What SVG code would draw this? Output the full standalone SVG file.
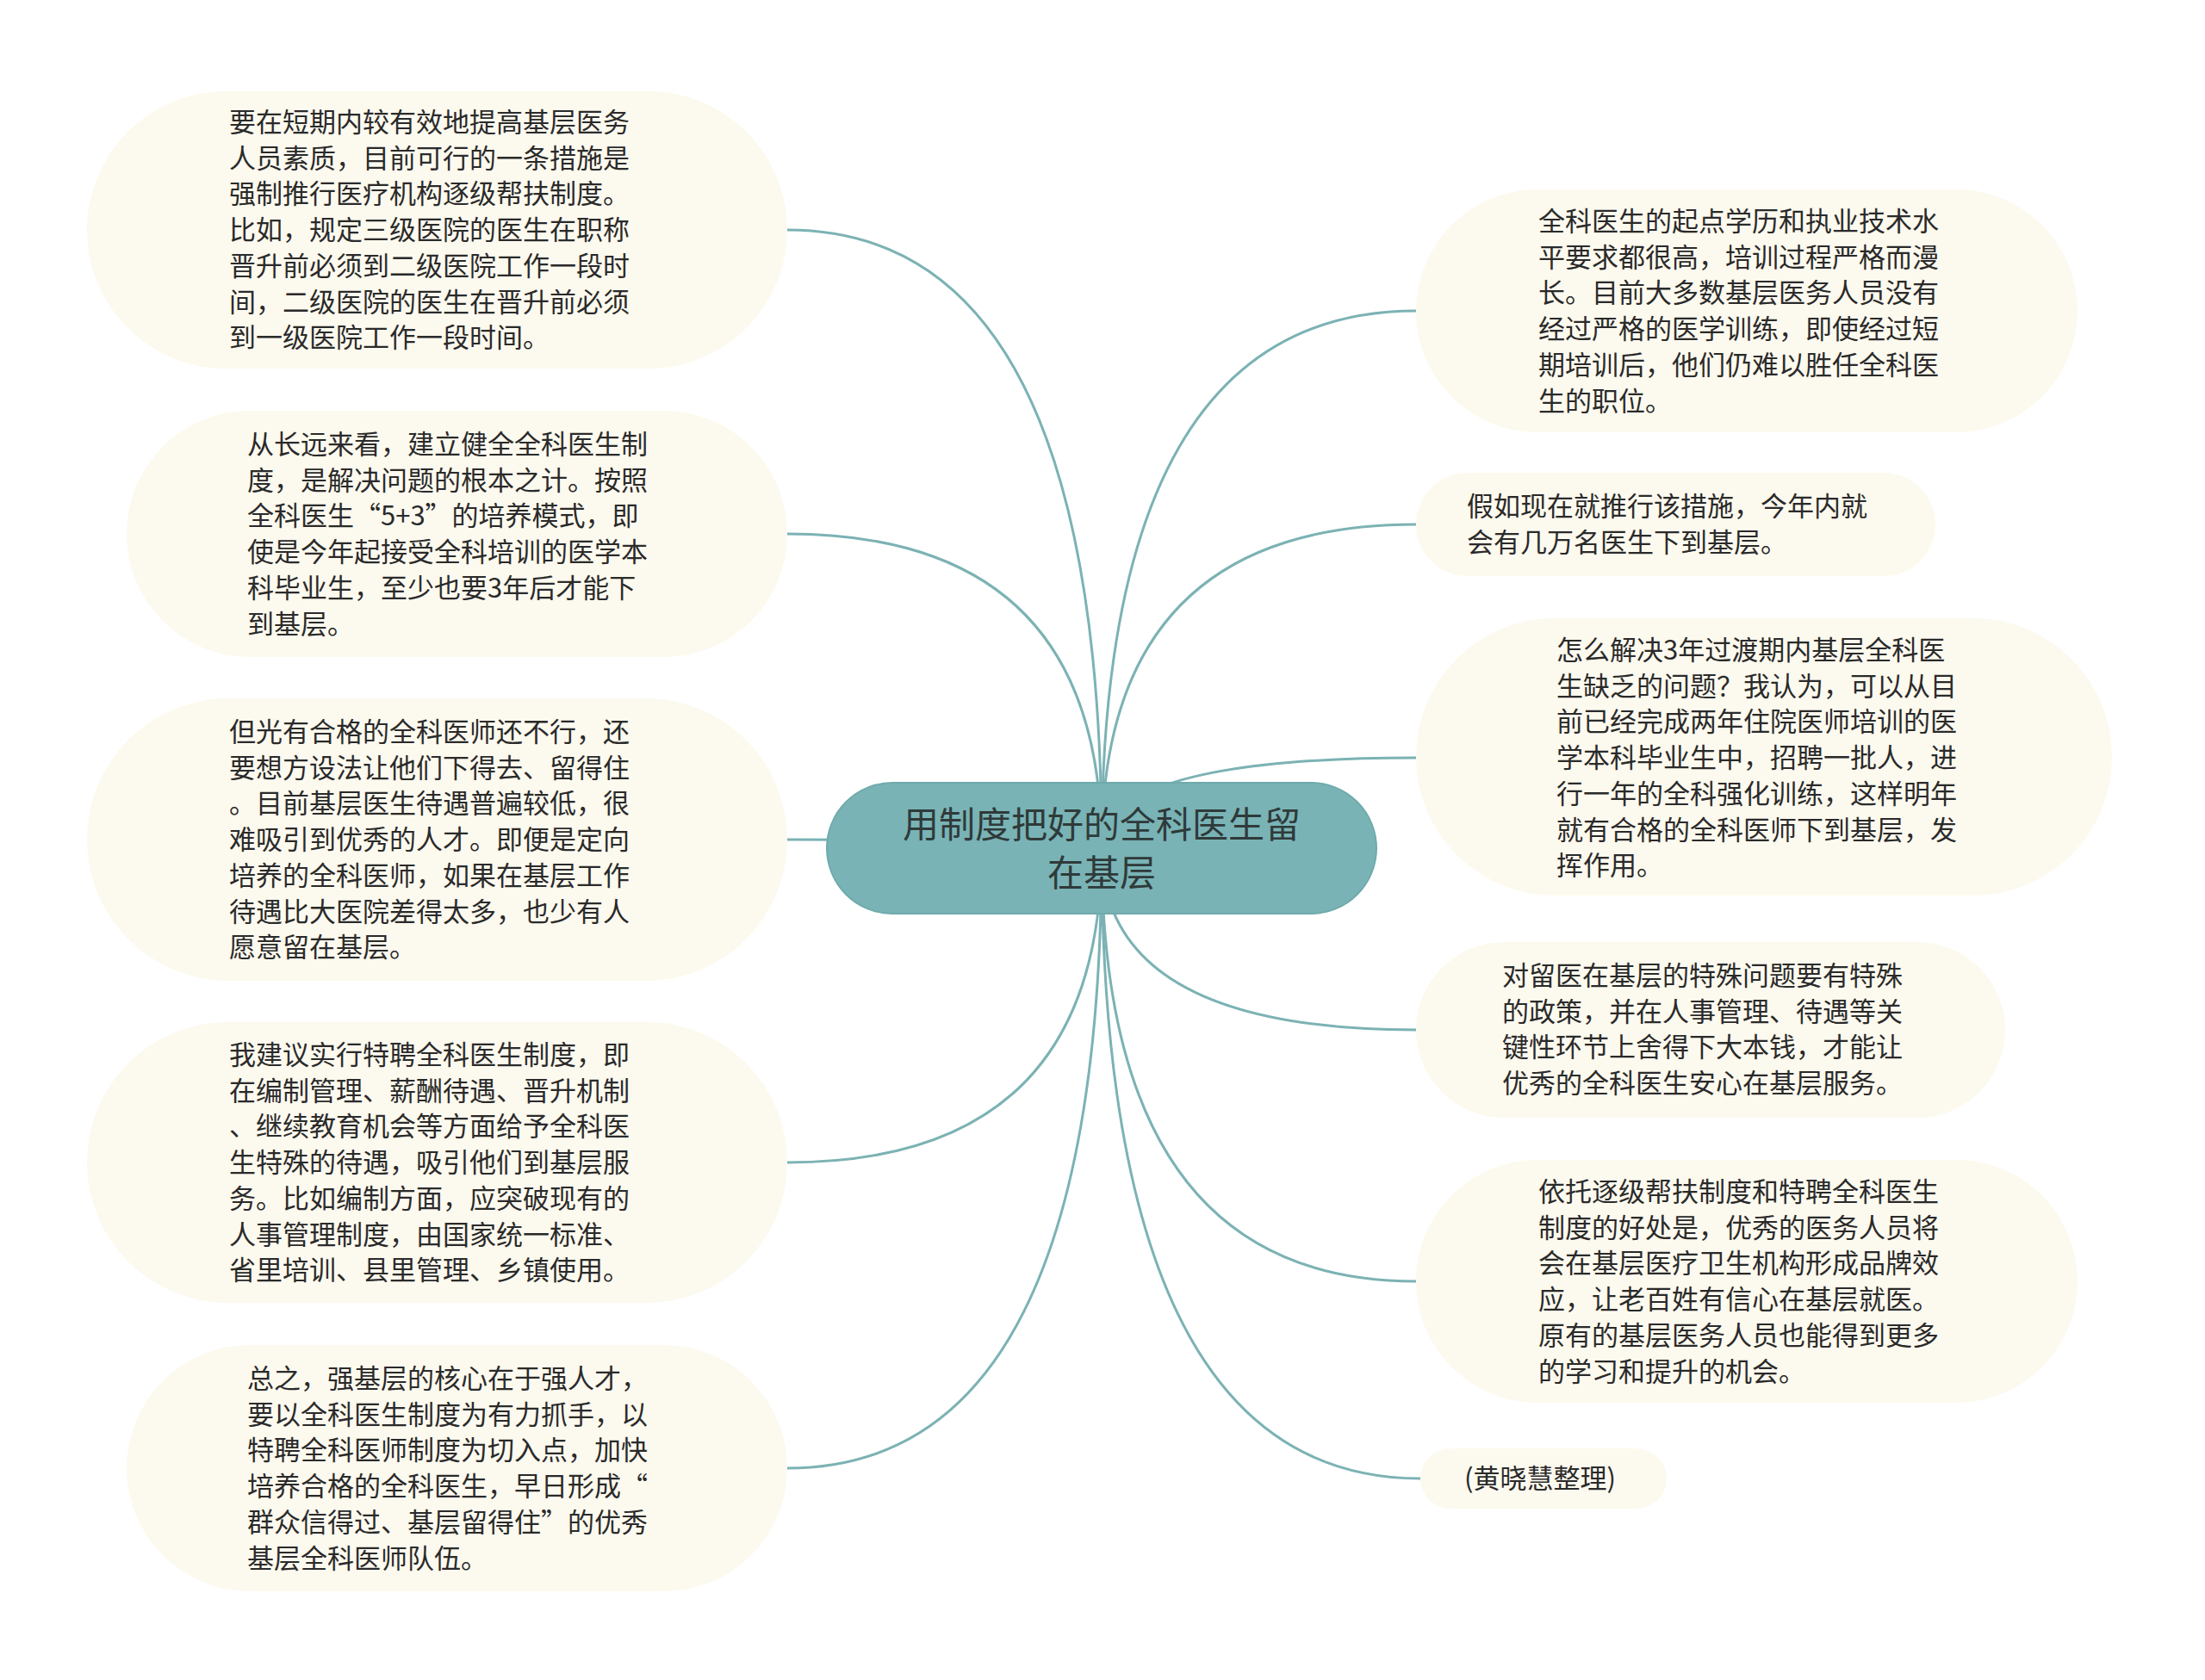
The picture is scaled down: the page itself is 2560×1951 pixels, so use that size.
<svg xmlns="http://www.w3.org/2000/svg" width="2560" height="1951" viewBox="0 0 2560 1951">
<style>
.bg{fill:#ffffff}
.bub{fill:#fcf9ee}
.root{fill:#79b3b5;stroke:#6eaaac;stroke-width:2}
.t{font-family:"Noto Sans CJK SC","Noto Sans",sans-serif;font-size:31px;fill:#2a2a2a}
.rt{font-family:"Noto Sans CJK SC","Noto Sans",sans-serif;font-size:42px;fill:#2f3a3a;text-anchor:middle}
.c{fill:none;stroke:#7cb2b4;stroke-width:3}
</style>
<rect class="bg" x="0" y="0" width="2560" height="1951"/>
<g id="connectors">
<path class="c" d="M1279,985 Q1279,267 914,267"/>
<path class="c" d="M1279,985 Q1279,620 914,620"/>
<path class="c" d="M1279,985 Q1279,975 914,975"/>
<path class="c" d="M1279,985 Q1279,1350 914,1350"/>
<path class="c" d="M1279,985 Q1279,1705 914,1705"/>
<path class="c" d="M1279,985 Q1279,361 1644,361"/>
<path class="c" d="M1279,985 Q1279,609 1644,609"/>
<path class="c" d="M1279,985 Q1279,880 1644,880"/>
<path class="c" d="M1279,985 Q1279,1196 1644,1196"/>
<path class="c" d="M1279,985 Q1279,1488 1644,1488"/>
<path class="c" d="M1279,985 Q1279,1717 1649,1717"/>
</g>
<g id="root">
<rect class="root" x="960" y="909" width="638" height="152" rx="76" ry="76"/>
<text class="rt" x="1279" y="973">用制度把好的全科医生留</text>
<text class="rt" x="1279" y="1029">在基层</text>
</g>
<g id="node-l1">
<rect class="bub" x="101" y="106" width="813" height="322" rx="161" ry="161"/>
<text class="t" x="266"><tspan x="266" y="153">要在短期内较有效地提高基层医务</tspan><tspan x="266" y="194.7">人员素质，目前可行的一条措施是</tspan><tspan x="266" y="236.4">强制推行医疗机构逐级帮扶制度。</tspan><tspan x="266" y="278.1">比如，规定三级医院的医生在职称</tspan><tspan x="266" y="319.8">晋升前必须到二级医院工作一段时</tspan><tspan x="266" y="361.5">间，二级医院的医生在晋升前必须</tspan><tspan x="266" y="403.2">到一级医院工作一段时间。</tspan></text>
</g>
<g id="node-l2">
<rect class="bub" x="147" y="477" width="767" height="286" rx="143" ry="143"/>
<text class="t"><tspan x="287" y="527">从长远来看，建立健全全科医生制</tspan><tspan x="287" y="568.7">度，是解决问题的根本之计。按照</tspan><tspan x="287" y="610.4">全科医生“5+3”的培养模式，即</tspan><tspan x="287" y="652.1">使是今年起接受全科培训的医学本</tspan><tspan x="287" y="693.8">科毕业生，至少也要3年后才能下</tspan><tspan x="287" y="735.5">到基层。</tspan></text>
</g>
<g id="node-l3">
<rect class="bub" x="101" y="811" width="813" height="328" rx="164" ry="164"/>
<text class="t"><tspan x="266" y="861">但光有合格的全科医师还不行，还</tspan><tspan x="266" y="902.7">要想方设法让他们下得去、留得住</tspan><tspan x="266" y="944.4">。目前基层医生待遇普遍较低，很</tspan><tspan x="266" y="986.1">难吸引到优秀的人才。即便是定向</tspan><tspan x="266" y="1027.8">培养的全科医师，如果在基层工作</tspan><tspan x="266" y="1069.5">待遇比大医院差得太多，也少有人</tspan><tspan x="266" y="1111.2">愿意留在基层。</tspan></text>
</g>
<g id="node-l4">
<rect class="bub" x="101" y="1187" width="813" height="326" rx="163" ry="163"/>
<text class="t"><tspan x="266" y="1236">我建议实行特聘全科医生制度，即</tspan><tspan x="266" y="1277.7">在编制管理、薪酬待遇、晋升机制</tspan><tspan x="266" y="1319.4">、继续教育机会等方面给予全科医</tspan><tspan x="266" y="1361.1">生特殊的待遇，吸引他们到基层服</tspan><tspan x="266" y="1402.8">务。比如编制方面，应突破现有的</tspan><tspan x="266" y="1444.5">人事管理制度，由国家统一标准、</tspan><tspan x="266" y="1486.2">省里培训、县里管理、乡镇使用。</tspan></text>
</g>
<g id="node-l5">
<rect class="bub" x="147" y="1562" width="767" height="286" rx="143" ry="143"/>
<text class="t"><tspan x="287" y="1612">总之，强基层的核心在于强人才，</tspan><tspan x="287" y="1653.7">要以全科医生制度为有力抓手，以</tspan><tspan x="287" y="1695.4">特聘全科医师制度为切入点，加快</tspan><tspan x="287" y="1737.1">培养合格的全科医生，早日形成“</tspan><tspan x="287" y="1778.8">群众信得过、基层留得住”的优秀</tspan><tspan x="287" y="1820.5">基层全科医师队伍。</tspan></text>
</g>
<g id="node-r1">
<rect class="bub" x="1644" y="220" width="768" height="282" rx="141" ry="141"/>
<text class="t"><tspan x="1786" y="268">全科医生的起点学历和执业技术水</tspan><tspan x="1786" y="309.7">平要求都很高，培训过程严格而漫</tspan><tspan x="1786" y="351.4">长。目前大多数基层医务人员没有</tspan><tspan x="1786" y="393.1">经过严格的医学训练，即使经过短</tspan><tspan x="1786" y="434.8">期培训后，他们仍难以胜任全科医</tspan><tspan x="1786" y="476.5">生的职位。</tspan></text>
</g>
<g id="node-r2">
<rect class="bub" x="1644" y="549" width="603" height="120" rx="60" ry="60"/>
<text class="t"><tspan x="1703" y="599">假如现在就推行该措施，今年内就</tspan><tspan x="1703" y="640.7">会有几万名医生下到基层。</tspan></text>
</g>
<g id="node-r3">
<rect class="bub" x="1644" y="718" width="808" height="322" rx="161" ry="161"/>
<text class="t"><tspan x="1807" y="766">怎么解决3年过渡期内基层全科医</tspan><tspan x="1807" y="807.7">生缺乏的问题？我认为，可以从目</tspan><tspan x="1807" y="849.4">前已经完成两年住院医师培训的医</tspan><tspan x="1807" y="891.1">学本科毕业生中，招聘一批人，进</tspan><tspan x="1807" y="932.8">行一年的全科强化训练，这样明年</tspan><tspan x="1807" y="974.5">就有合格的全科医师下到基层，发</tspan><tspan x="1807" y="1016.2">挥作用。</tspan></text>
</g>
<g id="node-r4">
<rect class="bub" x="1644" y="1094" width="684" height="204" rx="102" ry="102"/>
<text class="t"><tspan x="1744" y="1144">对留医在基层的特殊问题要有特殊</tspan><tspan x="1744" y="1185.7">的政策，并在人事管理、待遇等关</tspan><tspan x="1744" y="1227.4">键性环节上舍得下大本钱，才能让</tspan><tspan x="1744" y="1269.1">优秀的全科医生安心在基层服务。</tspan></text>
</g>
<g id="node-r5">
<rect class="bub" x="1644" y="1347" width="768" height="282" rx="141" ry="141"/>
<text class="t"><tspan x="1786" y="1395">依托逐级帮扶制度和特聘全科医生</tspan><tspan x="1786" y="1436.7">制度的好处是，优秀的医务人员将</tspan><tspan x="1786" y="1478.4">会在基层医疗卫生机构形成品牌效</tspan><tspan x="1786" y="1520.1">应，让老百姓有信心在基层就医。</tspan><tspan x="1786" y="1561.8">原有的基层医务人员也能得到更多</tspan><tspan x="1786" y="1603.5">的学习和提升的机会。</tspan></text>
</g>
<g id="node-r6">
<rect class="bub" x="1649" y="1682" width="286" height="70" rx="35" ry="35"/>
<text class="t" x="1700" y="1728">(黄晓慧整理)</text>
</g>
</svg>
